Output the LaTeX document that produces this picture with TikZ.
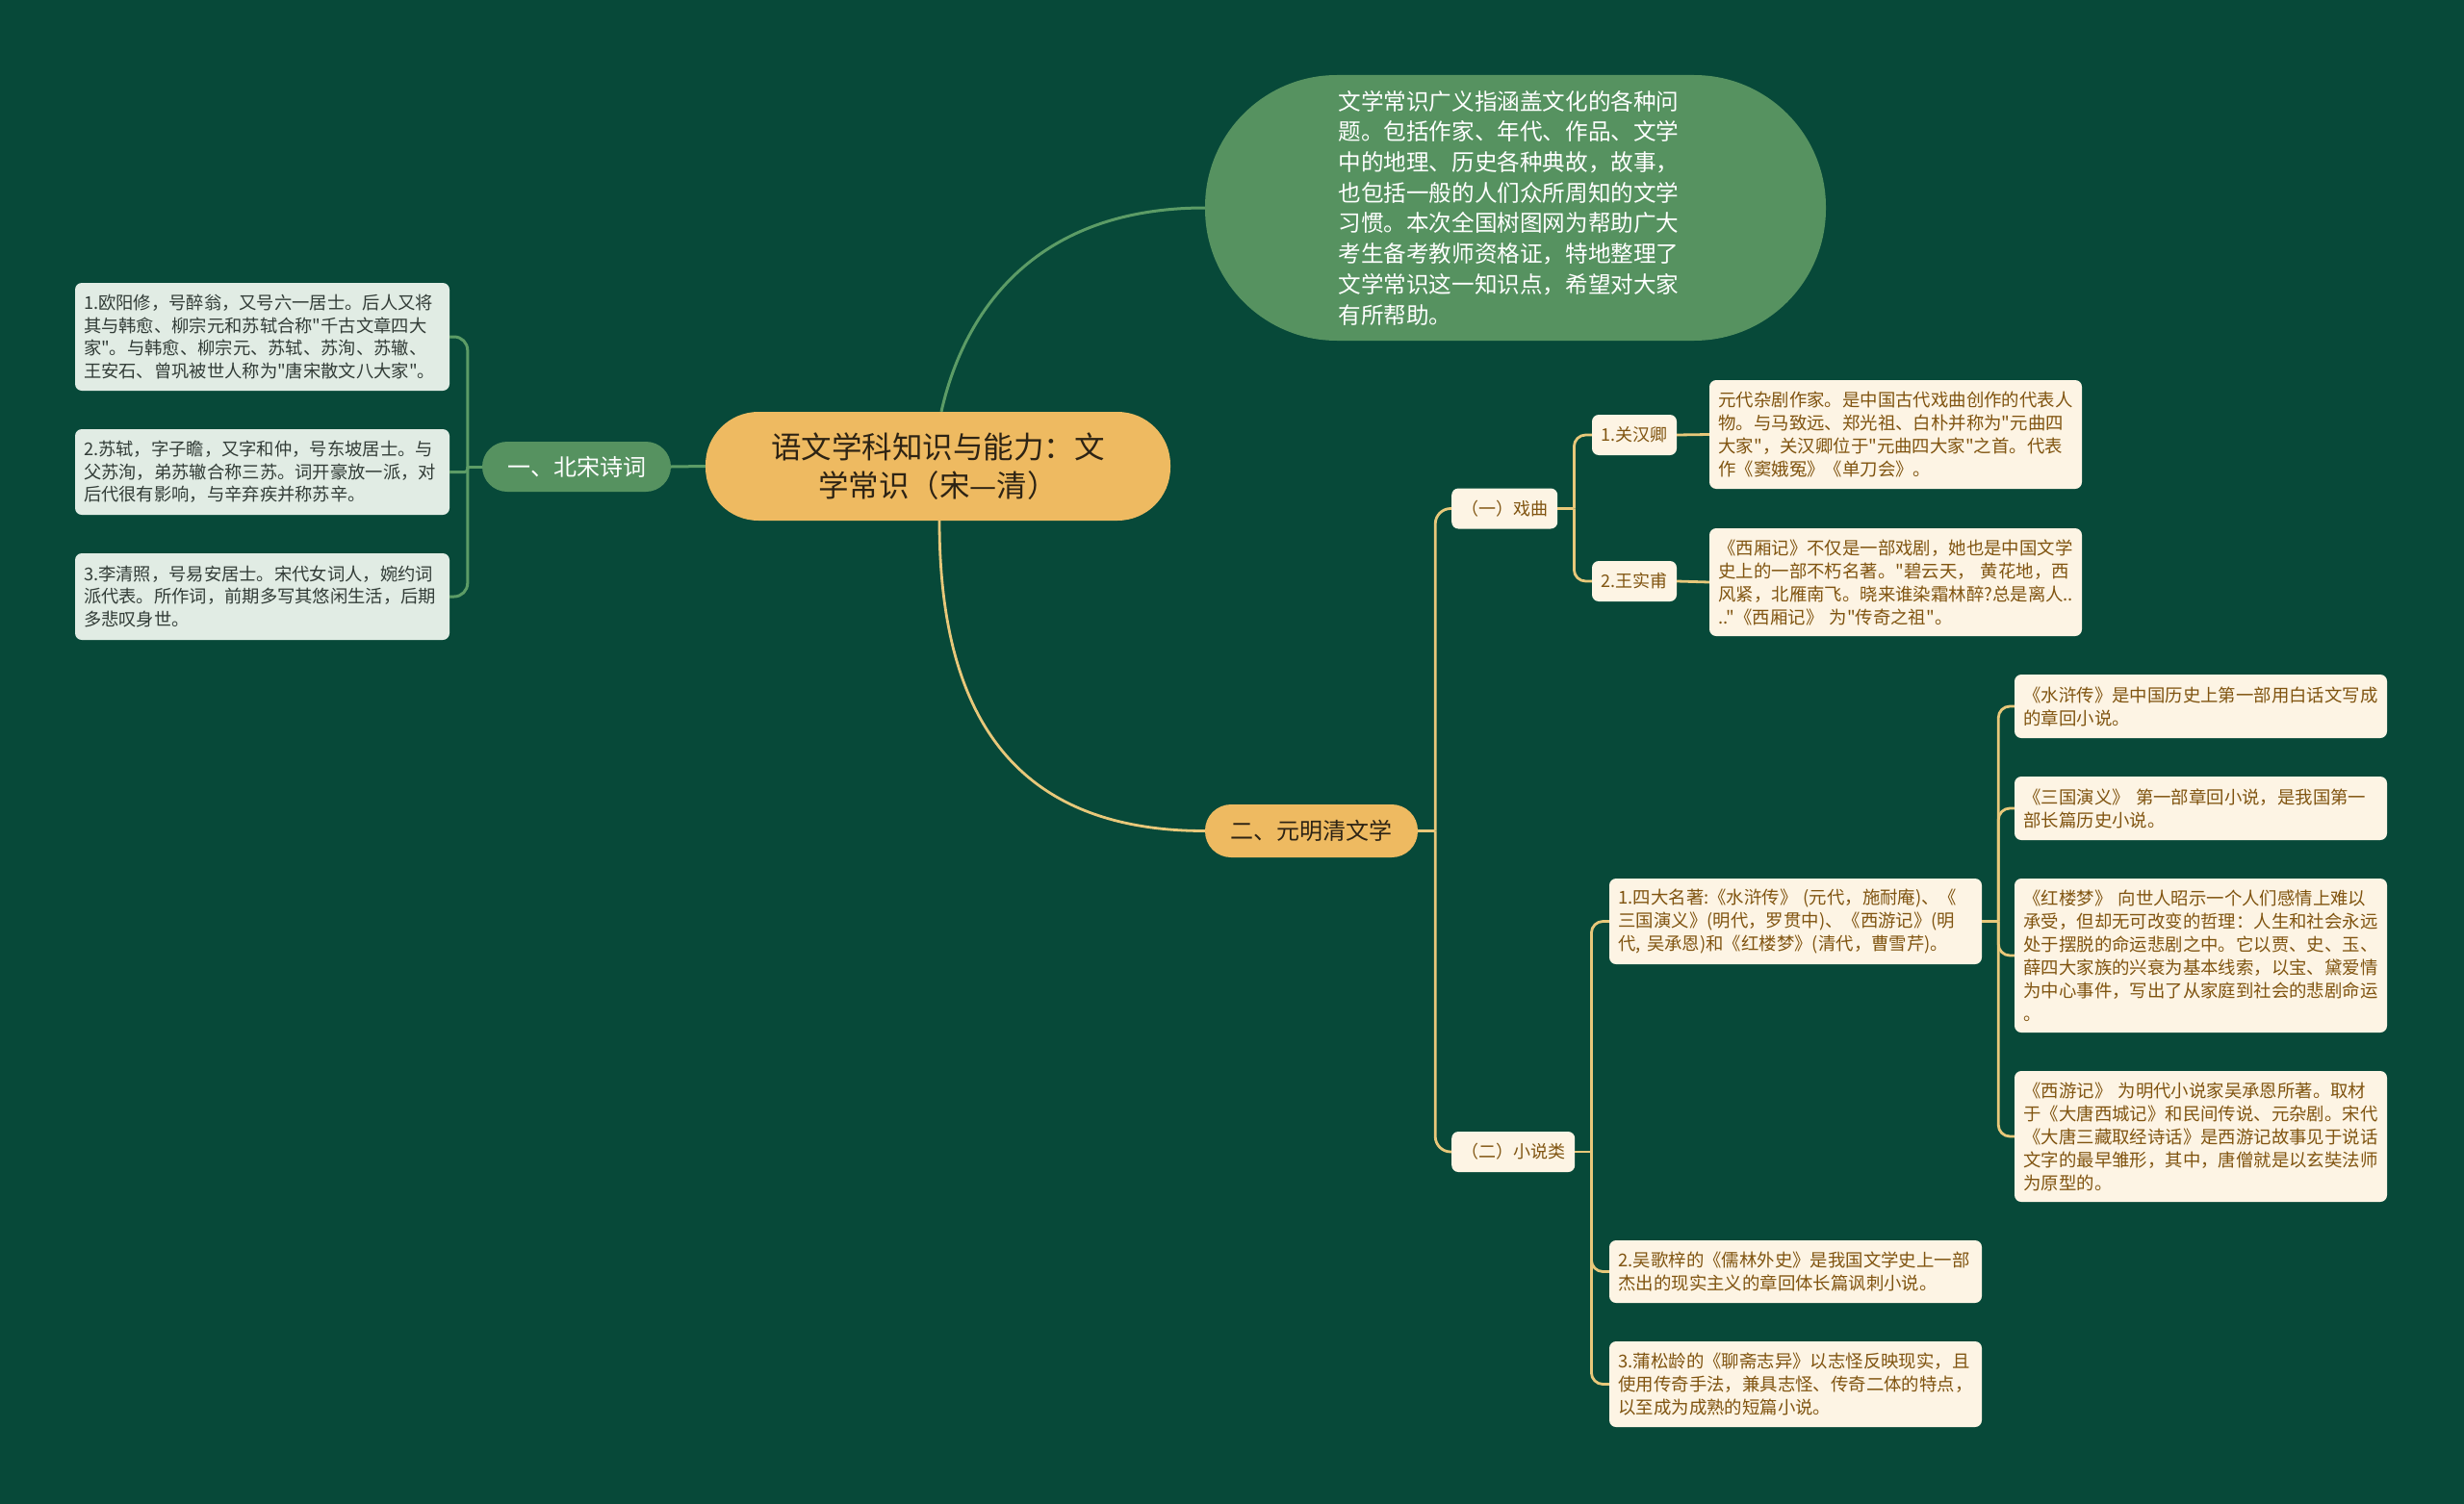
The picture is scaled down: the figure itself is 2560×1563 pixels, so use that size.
\documentclass[tikz,border=0pt]{standalone}
\usepackage{fontspec}
\setmainfont{Noto Sans CJK SC}[Ligatures=TeXOff]
\definecolor{bgcol}{RGB}{7,73,57}
\definecolor{gfill}{RGB}{86,146,96}
\definecolor{glinecol}{RGB}{92,156,102}
\definecolor{ofill}{RGB}{238,186,97}
\definecolor{ylinecol}{RGB}{232,200,122}
\definecolor{cream}{RGB}{253,244,228}
\definecolor{creamtext}{RGB}{128,84,16}
\definecolor{lboxfill}{RGB}{225,236,228}
\definecolor{lboxtext}{RGB}{50,60,55}
\definecolor{darktext}{RGB}{45,35,20}
\begin{document}
\begin{tikzpicture}[x=1pt,y=-1pt,
  lbox/.style={fill=lboxfill, rounded corners=7pt, text=lboxtext,
    font=\fontsize{18.3}{23.5}\selectfont, text width=371pt, align=left,
    inner xsep=9pt, inner ysep=0pt},
  cbox/.style={fill=cream, rounded corners=7pt, text=creamtext,
    font=\fontsize{18.4}{24}\selectfont, text width=368pt, align=left,
    inner xsep=9.5pt, inner ysep=0pt},
  clabel/.style={fill=cream, rounded corners=7pt, text=creamtext,
    font=\fontsize{18}{22}\selectfont, inner xsep=10pt, inner ysep=0pt,
    minimum height=42pt},
  gline/.style={draw=glinecol, line width=3pt},
  yline/.style={draw=ylinecol, line width=2.8pt},
]
\useasboundingbox (0,0) rectangle (2560,1563);
\fill[bgcol] (0,0) rectangle (2560,1563);

% ---------- nodes ----------
\node[fill=ofill, rounded corners=55pt, minimum width=483pt, minimum height=113pt,
  text=darktext, align=center, font=\fontsize{31.5}{40}\selectfont, inner sep=0pt]
  (center) at (974.5,484.5) {语文学科知识与能力：文\\学常识（宋—清）};

\node[fill=gfill, rounded corners=137pt, minimum height=276pt, text=white,
  text width=368pt, align=left, inner xsep=138.5pt, inner ysep=0pt,
  font=\fontsize{23.6}{31.7}\selectfont]
  (intro) at (1574.5,216) {文学常识广义指涵盖文化的各种问\\题。包括作家、年代、作品、文学\\中的地理、历史各种典故，故事，\\也包括一般的人们众所周知的文学\\习惯。本次全国树图网为帮助广大\\考生备考教师资格证，特地整理了\\文学常识这一知识点，希望对大家\\有所帮助。};

\node[fill=gfill, rounded corners=26pt, minimum width=196pt, minimum height=52pt,
  text=white, font=\fontsize{24}{28}\selectfont, inner sep=0pt]
  (bs) at (599,485) {一、北宋诗词};

\node[lbox, minimum height=112pt] (lb1) at (272.5,350)
  {1.欧阳修，号醉翁，又号六一居士。后人又将\\其与韩愈、柳宗元和苏轼合称"千古文章四大\\家"。与韩愈、柳宗元、苏轼、苏洵、苏辙、\\王安石、曾巩被世人称为"唐宋散文八大家"。};
\node[lbox, minimum height=89pt] (lb2) at (272.5,490.5)
  {2.苏轼，字子瞻，又字和仲，号东坡居士。与\\父苏洵，弟苏辙合称三苏。词开豪放一派，对\\后代很有影响，与辛弃疾并称苏辛。};
\node[lbox, minimum height=90pt] (lb3) at (272.5,620)
  {3.李清照，号易安居士。宋代女词人，婉约词\\派代表。所作词，前期多写其悠闲生活，后期\\多悲叹身世。};

\node[fill=ofill, rounded corners=27pt, minimum width=221pt, minimum height=55pt,
  text=darktext, font=\fontsize{24}{28}\selectfont, inner sep=0pt]
  (yms) at (1362.5,863.5) {二、元明清文学};

\node[clabel, anchor=west] (xq) at (1508,528.5) {（一）戏曲};
\node[clabel, anchor=west] (xs) at (1508,1197) {（二）小说类};

\node[clabel, inner xsep=9.5pt] (gh) at (1698,452) {1.关汉卿};
\node[clabel, inner xsep=9.5pt] (ws) at (1698,604) {2.王实甫};

\node[cbox, minimum height=113pt] (ghd) at (1969.5,451.5)
  {元代杂剧作家。是中国古代戏曲创作的代表人\\物。与马致远、郑光祖、白朴并称为"元曲四\\大家"，关汉卿位于"元曲四大家"之首。代表\\作《窦娥冤》《单刀会》。};
\node[cbox, minimum height=112pt] (wsd) at (1969.5,605)
  {《西厢记》不仅是一部戏剧，她也是中国文学\\史上的一部不朽名著。"碧云天，~黄花地，西\\风紧，北雁南飞。晓来谁染霜林醉?总是离人..\\.."《西厢记》~为"传奇之祖"。};

\node[cbox, minimum height=89pt] (sd) at (1865.5,957.5)
  {1.四大名著:《水浒传》~(元代，施耐庵)、《\\三国演义》(明代，罗贯中)、《西游记》(明\\代,~吴承恩)和《红楼梦》(清代，曹雪芹)。};
\node[cbox, minimum height=65pt] (wj) at (1865.5,1321.5)
  {2.吴歌梓的《儒林外史》是我国文学史上一部\\杰出的现实主义的章回体长篇讽刺小说。};
\node[cbox, minimum height=89pt] (ps) at (1865.5,1438.5)
  {3.蒲松龄的《聊斋志异》以志怪反映现实，且\\使用传奇手法，兼具志怪、传奇二体的特点，\\以至成为成熟的短篇小说。};

\node[cbox, minimum height=66pt] (shz) at (2286.5,734)
  {《水浒传》是中国历史上第一部用白话文写成\\的章回小说。};
\node[cbox, minimum height=66pt] (sg) at (2286.5,840)
  {《三国演义》~第一部章回小说，是我国第一\\部长篇历史小说。};
\node[cbox, minimum height=160pt] (hl) at (2286.5,993)
  {《红楼梦》~向世人昭示一个人们感情上难以\\承受，但却无可改变的哲理：人生和社会永远\\处于摆脱的命运悲剧之中。它以贾、史、玉、\\薛四大家族的兴衰为基本线索，以宝、黛爱情\\为中心事件，写出了从家庭到社会的悲剧命运\\。};
\node[cbox, minimum height=136pt] (xy) at (2286.5,1181)
  {《西游记》~为明代小说家吴承恩所著。取材\\于《大唐西城记》和民间传说、元杂剧。宋代\\《大唐三藏取经诗话》是西游记故事见于说话\\文字的最早雏形，其中，唐僧就是以玄奘法师\\为原型的。};

% ---------- connectors ----------
\draw[gline] (center.west) -- (bs.east);
\draw[gline] ([xshift=3.5pt]center.north) .. controls +(22,-98) and +(-182,0) .. (intro.west);
\draw[yline] ([xshift=1.5pt]center.south) .. controls +(0,200) and +(-200,0) .. (yms.west);

\draw[gline] (bs.west) -- ++(-15,0) coordinate (jl);
\draw[gline, rounded corners=14pt] (jl) |- (lb1.east);
\draw[gline, rounded corners=3pt] (jl) |- (lb2.east);
\draw[gline, rounded corners=14pt] (jl) |- (lb3.east);

\draw[yline] (yms.east) -- ++(18,0) coordinate (j2);
\draw[yline, rounded corners=16pt] (j2) |- (xq.west);
\draw[yline, rounded corners=16pt] (j2) |- (xs.west);

\draw[yline] (xq.east) -- ++(17,0) coordinate (j3);
\draw[yline, rounded corners=12pt] (j3) |- (gh.west);
\draw[yline, rounded corners=12pt] (j3) |- (ws.west);
\draw[yline] (gh.east) -- (ghd.west);
\draw[yline] (ws.east) -- (wsd.west);

\draw[yline] (xs.east) -- ++(17,0) coordinate (j4);
\draw[yline, rounded corners=12pt] (j4) |- (sd.west);
\draw[yline, rounded corners=12pt] (j4) |- (wj.west);
\draw[yline, rounded corners=12pt] (j4) |- (ps.west);

\draw[yline] (sd.east) -- ++(17,0) coordinate (j5);
\draw[yline, rounded corners=12pt] (j5) |- (shz.west);
\draw[yline, rounded corners=12pt] (j5) |- (sg.west);
\draw[yline, rounded corners=12pt] (j5) |- (hl.west);
\draw[yline, rounded corners=12pt] (j5) |- (xy.west);
\end{tikzpicture}
\end{document}
